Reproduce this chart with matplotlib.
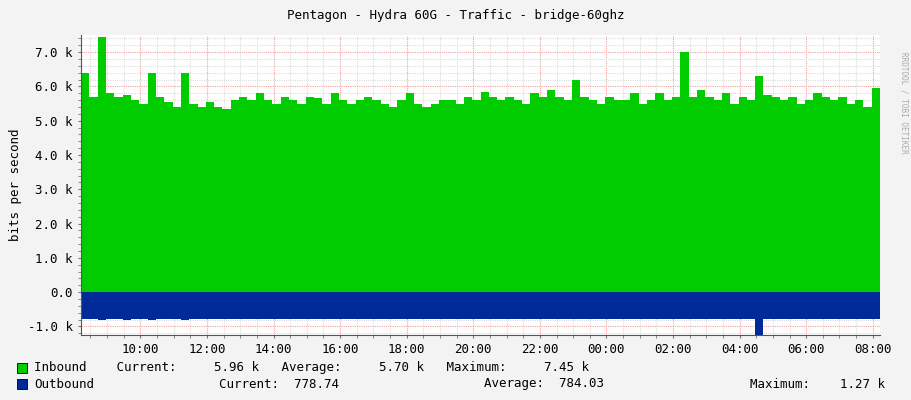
import matplotlib.pyplot as plt
import matplotlib.dates as mdates
import numpy as np
from datetime import datetime, timedelta

# --- data (15 min steps, starting 08:13) ---
INBOUND_K = [
    6.40, 5.70, 7.45, 5.80, 5.70, 5.75, 5.60, 5.50, 6.40, 5.70,
    5.55, 5.40, 6.40, 5.50, 5.40, 5.55, 5.40, 5.35, 5.60, 5.70,
    5.60, 5.80, 5.60, 5.50, 5.70, 5.60, 5.50, 5.70, 5.65, 5.50,
    5.80, 5.60, 5.50, 5.60, 5.70, 5.60, 5.50, 5.40, 5.60, 5.80,
    5.50, 5.40, 5.50, 5.60, 5.60, 5.50, 5.70, 5.60, 5.85, 5.70,
    5.60, 5.70, 5.60, 5.50, 5.80, 5.70, 5.90, 5.70, 5.60, 6.20,
    5.70, 5.60, 5.50, 5.70, 5.60, 5.60, 5.80, 5.50, 5.60, 5.80,
    5.60, 5.70, 7.00, 5.70, 5.90, 5.70, 5.60, 5.80, 5.50, 5.70,
    5.60, 6.30, 5.75, 5.70, 5.60, 5.70, 5.50, 5.60, 5.80, 5.70,
    5.60, 5.70, 5.50, 5.60, 5.40, 5.96,
]
OUTBOUND_K = [
    0.78, 0.78, 0.80, 0.78, 0.79, 0.80, 0.78, 0.78, 0.80, 0.78,
    0.78, 0.79, 0.80, 0.78, 0.78, 0.78, 0.78, 0.79, 0.78, 0.78,
    0.78, 0.78, 0.79, 0.78, 0.78, 0.78, 0.78, 0.78, 0.79, 0.78,
    0.78, 0.78, 0.78, 0.78, 0.78, 0.79, 0.78, 0.78, 0.78, 0.78,
    0.78, 0.78, 0.78, 0.78, 0.78, 0.78, 0.78, 0.78, 0.79, 0.78,
    0.78, 0.78, 0.78, 0.78, 0.78, 0.78, 0.78, 0.78, 0.78, 0.78,
    0.78, 0.78, 0.78, 0.78, 0.78, 0.78, 0.78, 0.78, 0.78, 0.78,
    0.78, 0.78, 0.79, 0.78, 0.78, 0.78, 0.78, 0.78, 0.78, 0.78,
    0.78, 1.27, 0.78, 0.78, 0.78, 0.78, 0.78, 0.78, 0.78, 0.78,
    0.78, 0.78, 0.78, 0.78, 0.78, 0.78,
]
START = datetime(2024, 1, 1, 8, 13)
STEP_MIN = 15

times = [START + timedelta(minutes=STEP_MIN * i) for i in range(len(INBOUND_K) + 1)]
inb = np.array(INBOUND_K + [INBOUND_K[-1]]) * 1000
outb = -np.array(OUTBOUND_K + [OUTBOUND_K[-1]]) * 1000

plt.rcParams['font.family'] = 'DejaVu Sans Mono'
plt.rcParams['font.size'] = 8

fig = plt.figure(figsize=(9.11, 4.00), dpi=100, facecolor='#F3F3F3')
ax = fig.add_axes([81 / 911, 1 - 335 / 400, 799 / 911, 300 / 400])
ax.set_facecolor('white')

ax.fill_between(times, 0, inb, step='post', color='#00CC00', lw=0, zorder=2)
ax.fill_between(times, 0, outb, step='post', color='#002A97', lw=0, zorder=2)

ax.set_xlim(times[0], times[-1])
ax.set_ylim(-1250, 7500)
ax.set_yticks(np.arange(-1000, 7001, 1000))
ax.set_yticklabels(['-1.0 k', '0.0'] + [f'{v:.1f} k' for v in range(1, 8)])
ax.set_yticks(np.arange(-1200, 7500, 200), minor=True)

ax.xaxis.set_major_locator(mdates.HourLocator(byhour=range(0, 24, 2)))
ax.xaxis.set_major_formatter(mdates.DateFormatter('%H:%M'))
ax.xaxis.set_minor_locator(mdates.MinuteLocator(byminute=[0, 30]))

ax.grid(True, which='minor', color='#DDDDDD', ls=(0, (1, 1)), lw=0.8, zorder=3)
ax.grid(True, which='major', color='#F4A0A0', ls=(0, (1, 1)), lw=0.8, zorder=3)
ax.axhline(0, color='#777777', lw=0.6, zorder=1)

for s in ['top', 'right']:
    ax.spines[s].set_visible(False)
for s in ['left', 'bottom']:
    ax.spines[s].set_color('#555555')
ax.tick_params(which='both', color='#777777', length=2, labelsize=9)
ax.tick_params(axis='y', pad=4)

ax.set_ylabel('bits per second', fontsize=9)
fig.text(0.5, 1 - 15 / 400, 'Pentagon - Hydra 60G - Traffic - bridge-60ghz',
         ha='center', va='center', fontsize=9)
fig.text(904 / 911, 0.87, 'RRDTOOL / TOBI OETIKER', rotation=270, ha='center',
         va='top', fontsize=5.5, color='#AAAAAA')

# legend rows
for y, col, txt in [
    (368, '#00CC00', 'Inbound    Current:     5.96 k   Average:     5.70 k   Maximum:     7.45 k'),
    (384, '#002A97', 'Outbound'),
]:
    fig.patches.append(plt.Rectangle((17 / 911, 1 - (y + 5) / 400), 10 / 911, 10 / 400,
                                     transform=fig.transFigure, facecolor=col,
                                     edgecolor='black', lw=0.6))
    fig.text(34 / 911, 1 - y / 400, txt, va='center', fontsize=9)
fig.text(219 / 911, 1 - 384 / 400, 'Current:  778.74', va='center', fontsize=9)
fig.text(484 / 911, 1 - 384 / 400, 'Average:  784.03', va='center', fontsize=9)
fig.text(750 / 911, 1 - 384 / 400, 'Maximum:    1.27 k', va='center', fontsize=9)

fig.savefig('out.png', dpi=100, facecolor=fig.get_facecolor())
